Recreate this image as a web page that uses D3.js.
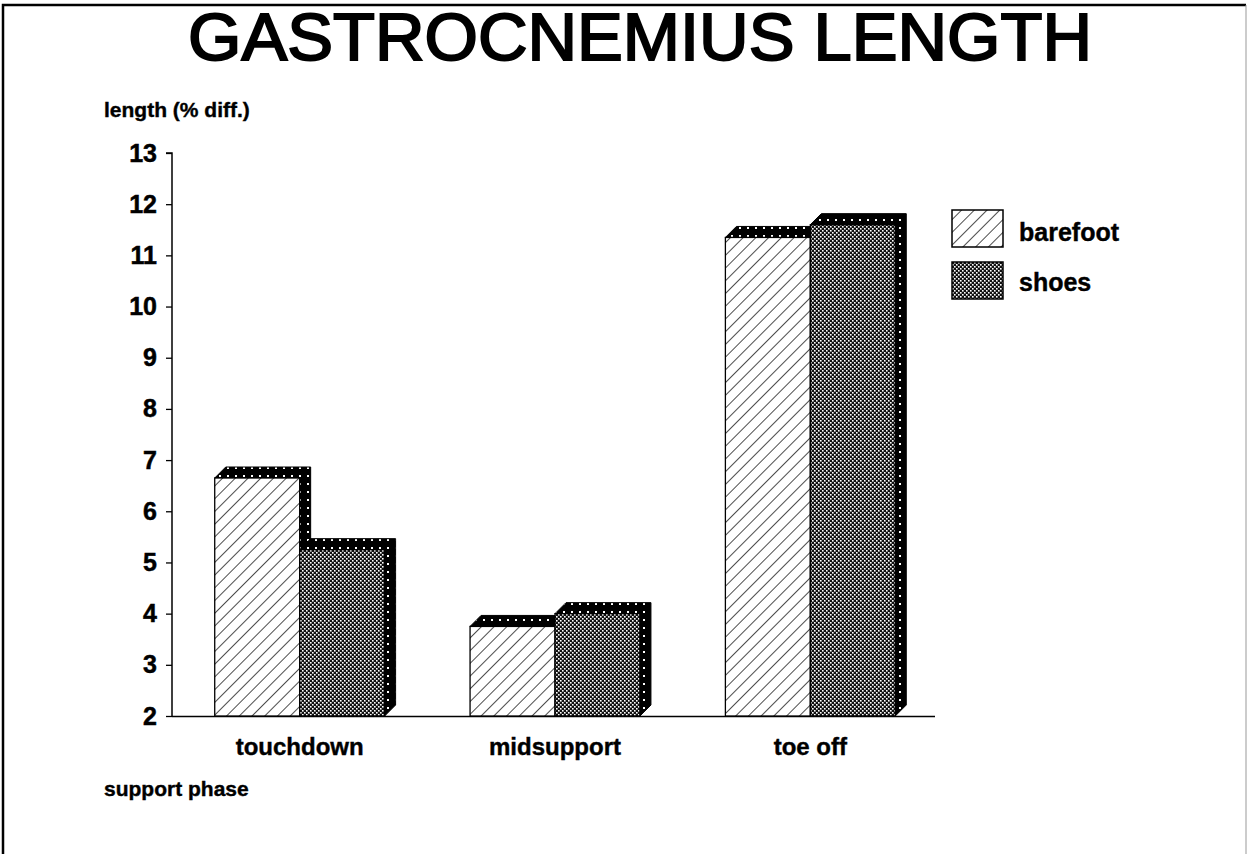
<!DOCTYPE html>
<html><head><meta charset="utf-8">
<script src="https://cdn.jsdelivr.net/npm/d3@7"></script>
<style>body{margin:0;background:#fff}svg{display:block}</style>
</head><body>
<script>
const categories = ["touchdown", "midsupport", "toe off"];
const series = ["barefoot", "shoes"];
const barefoot = [6.65, 3.75, 11.35];
const shoes = [5.25, 4.0, 11.6];
const yTicks = [2,3,4,5,6,7,8,9,10,11,12,13];
const title = "GASTROCNEMIUS LENGTH";
const yLabel = "length (% diff.)";
const xLabel = "support phase";

const W = 1248, H = 854;
const svg = d3.select("body").append("svg").attr("width", W).attr("height", H);
const font = "'Liberation Sans', Arial, Helvetica, sans-serif";

const defs = svg.append("defs");
const ph = defs.append("pattern").attr("id","hatch").attr("patternUnits","userSpaceOnUse")
  .attr("width",9).attr("height",9).attr("patternTransform","rotate(45)");
ph.append("rect").attr("width",9).attr("height",9).attr("fill","#fff");
ph.append("line").attr("x1",0).attr("y1",0).attr("x2",0).attr("y2",9).attr("stroke","#000").attr("stroke-width",1.4);
const pc = defs.append("pattern").attr("id","dense").attr("patternUnits","userSpaceOnUse")
  .attr("width",4).attr("height",4);
pc.append("rect").attr("width",4).attr("height",4).attr("fill","#111");
pc.append("rect").attr("x",0).attr("y",0).attr("width",1.6).attr("height",1.6).attr("fill","#fff");
pc.append("rect").attr("x",2).attr("y",2).attr("width",1.6).attr("height",1.6).attr("fill","#fff");
const ps = defs.append("pattern").attr("id","shadow").attr("patternUnits","userSpaceOnUse")
  .attr("width",8).attr("height",8);
ps.append("rect").attr("width",8).attr("height",8).attr("fill","#000");
ps.append("rect").attr("x",3).attr("y",3).attr("width",2).attr("height",2).attr("fill","#fff");

// frame
svg.append("path").attr("d", `M3,${H} L3,5 L1246,5`).attr("fill","none").attr("stroke","#000").attr("stroke-width",2.5);
svg.append("path").attr("d", `M1246,5 L1246,${H}`).attr("fill","none").attr("stroke","#999").attr("stroke-width",1);

// title
svg.append("text").attr("x",640).attr("y",60).attr("text-anchor","middle")
  .attr("font-family",font).attr("font-size",67).attr("textLength",904).attr("lengthAdjust","spacingAndGlyphs")
  .attr("stroke","#000").attr("stroke-width",2)
  .text(title);

const x0 = d3.scaleBand().domain(categories).range([172, 938]);
const x1 = d3.scaleBand().domain(series).range([0, x0.bandwidth()]).paddingOuter(0.503).paddingInner(0);
const y = d3.scaleLinear().domain([2,13]).range([716,153]);
const d = 11;

const yAxis = svg.append("g").attr("transform","translate(172,0)")
  .call(d3.axisLeft(y).tickValues(yTicks).tickSize(6).tickPadding(9).tickFormat(d3.format("d")));
yAxis.select(".domain").attr("stroke-width",1.5).attr("d","M-6,153H0V716");
yAxis.selectAll(".tick line").attr("stroke-width",1.3);
yAxis.selectAll(".tick text").attr("font-family",font).attr("font-size",25).attr("font-weight","bold").attr("fill","#000")
  .attr("stroke","#000").attr("stroke-width",0.5);

svg.append("line").attr("x1",172).attr("x2",935).attr("y1",716.5).attr("y2",716.5).attr("stroke","#000").attr("stroke-width",1.5);

const data = [];
categories.forEach((c,i)=>{
  data.push({cat:c, s:"barefoot", v:barefoot[i]});
  data.push({cat:c, s:"shoes", v:shoes[i]});
});

const g = svg.append("g");
data.forEach(o=>{
  const xa = x0(o.cat) + x1(o.s), xb = xa + x1.bandwidth();
  const yt = y(o.v), yb = y(2);
  g.append("path")
    .attr("d", `M${xa},${yt} L${xa+d},${yt-d} L${xb+d},${yt-d} L${xb+d},${yb-d} L${xb},${yb} L${xb},${yt} Z`)
    .attr("fill","url(#shadow)").attr("stroke","#000").attr("stroke-width",1);
  g.append("rect").attr("x",xa).attr("y",yt).attr("width",xb-xa).attr("height",yb-yt)
    .attr("fill", o.s==="barefoot" ? "url(#hatch)" : "url(#dense)")
    .attr("stroke","#000").attr("stroke-width",1.3);
});

svg.selectAll(".cat").data(categories).join("text")
  .attr("x", c => x0(c) + x0.bandwidth()/2).attr("y", 755).attr("text-anchor","middle")
  .attr("font-family",font).attr("font-size",24).attr("font-weight","bold")
  .attr("stroke","#000").attr("stroke-width",0.4).text(c=>c);

svg.append("text").attr("x",104).attr("y",117).attr("font-family",font).attr("font-size",21).attr("font-weight","bold")
  .attr("stroke","#000").attr("stroke-width",0.4).text(yLabel);
svg.append("text").attr("x",104).attr("y",796).attr("font-family",font).attr("font-size",21).attr("font-weight","bold")
  .attr("stroke","#000").attr("stroke-width",0.4).text(xLabel);

const leg = svg.append("g");
series.forEach((s,i)=>{
  leg.append("rect").attr("x",952).attr("y",210 + i*52).attr("width",51).attr("height",37)
    .attr("fill", s==="barefoot" ? "url(#hatch)" : "url(#dense)").attr("stroke","#000").attr("stroke-width",1.5);
  leg.append("text").attr("x",1019).attr("y",241 + i*50).attr("font-family",font).attr("font-size",25).attr("font-weight","bold")
    .attr("stroke","#000").attr("stroke-width",0.4).text(s);
});
</script>
</body></html>
